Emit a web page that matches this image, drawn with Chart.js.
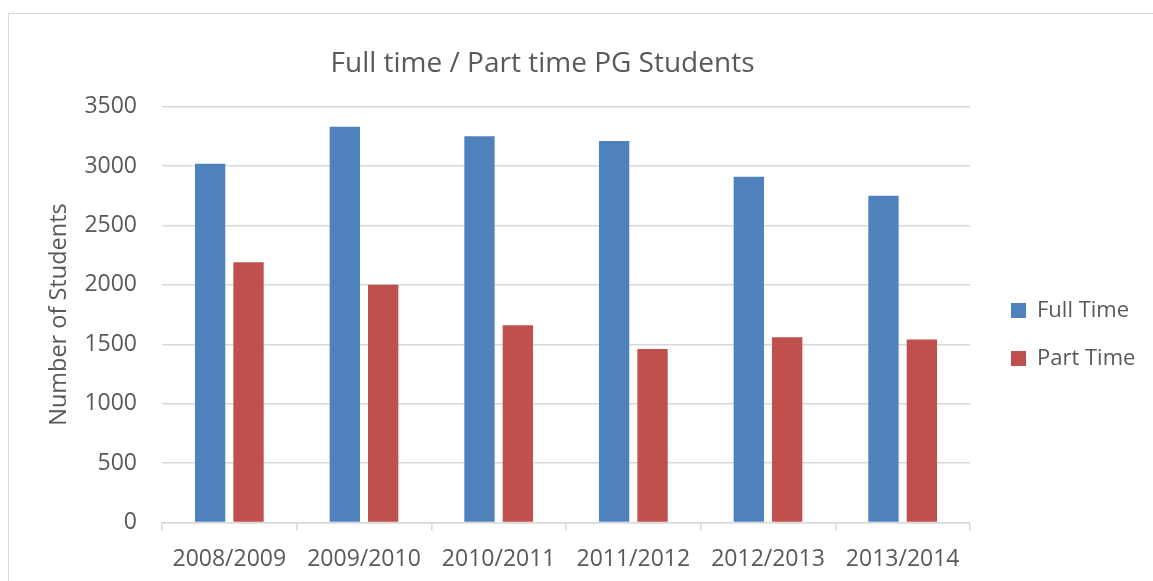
<!DOCTYPE html>
<html>
<head>
<meta charset="utf-8">
<script src="https://cdn.jsdelivr.net/npm/chart.js@4.4.1/dist/chart.umd.min.js"></script>
<style>
  html, body { margin: 0; padding: 0; background: #ffffff; }
  #wrap { width: 1153px; height: 581px; }
</style>
</head>
<body>
<div id="wrap"><canvas id="c" width="1153" height="581"></canvas></div>
<script>
const categories = ["2008/2009", "2009/2010", "2010/2011", "2011/2012", "2012/2013", "2013/2014"];
const fullTime = [3020, 3330, 3250, 3210, 2910, 2750];
const partTime = [2190, 2000, 1660, 1460, 1560, 1540];
const seriesNames = ["Full Time", "Part Time"];
const chartTitle = "Full time / Part time PG Students";
const yAxisTitle = "Number of Students";

const TEXT = "#595959";
const GRID = "#d9d9d9";
const FONT = "'Open Sans', 'DejaVu Sans', sans-serif";

const frame = {
  id: 'frame',
  beforeDraw(chart) {
    const ctx = chart.ctx;
    ctx.save();
    ctx.fillStyle = '#ffffff';
    ctx.fillRect(0, 0, chart.width, chart.height);
    ctx.strokeStyle = GRID;
    ctx.lineWidth = 1;
    ctx.strokeRect(8.5, 13.5, chart.width + 20, chart.height + 20);
    ctx.restore();
  }
};

const legendShift = {
  id: 'legendShift',
  afterLayout(chart) {
    const l = chart.legend;
    if (l) {
      l.left += 15;
      l.right = chart.width;
      l.width = l.right - l.left;
    }
  }
};

new Chart(document.getElementById('c'), {
  type: 'bar',
  data: {
    labels: categories,
    datasets: [
      { label: seriesNames[0], data: fullTime, backgroundColor: '#4f81bd', borderWidth: 0 },
      { label: seriesNames[1], data: partTime, backgroundColor: '#c0504d', borderWidth: 0 }
    ]
  },
  options: {
    responsive: false,
    animation: false,
    events: [],
    datasets: { bar: { barPercentage: 0.79, categoryPercentage: 0.57 } },
    layout: { padding: { left: 8, top: 0, right: 76, bottom: 0 } },
    plugins: {
      title: {
        display: true,
        text: chartTitle,
        color: TEXT,
        font: { family: FONT, size: 28, weight: 'normal' },
        padding: { top: 47, bottom: 26 }
      },
      legend: {
        position: 'right',
        fullSize: false,
        maxWidth: 107,
        title: { display: true, text: ' ', font: { family: FONT, size: 10 }, padding: { top: 14, bottom: 14 } },
        labels: {
          color: TEXT,
          font: { family: FONT, size: 22 },
          boxWidth: 15,
          boxHeight: 15,
          padding: 26
        }
      },
      tooltip: { enabled: false }
    },
    scales: {
      x: {
        grid: { display: true, drawOnChartArea: false, drawTicks: true, tickLength: 8, color: GRID, lineWidth: 1.5, offset: true },
        border: { display: true, color: GRID, width: 1.5 },
        ticks: { color: TEXT, font: { family: FONT, size: 23 }, padding: 15, maxRotation: 0, autoSkip: false },
        afterFit(scale) { scale.height = 58.5; }
      },
      y: {
        min: 0, max: 3500,
        ticks: { stepSize: 500, color: TEXT, font: { family: FONT, size: 23 }, padding: 25,
                 callback: (v) => String(v) },
        grid: { color: GRID, lineWidth: 1.5, drawTicks: false },
        border: { display: false },
        title: { display: true, text: yAxisTitle, color: TEXT, font: { family: FONT, size: 23.5 }, padding: { top: 37, bottom: 0 } },
        afterFit(scale) { scale.width = 154; }
      }
    }
  },
  plugins: [frame, legendShift]
});
</script>
</body>
</html>
